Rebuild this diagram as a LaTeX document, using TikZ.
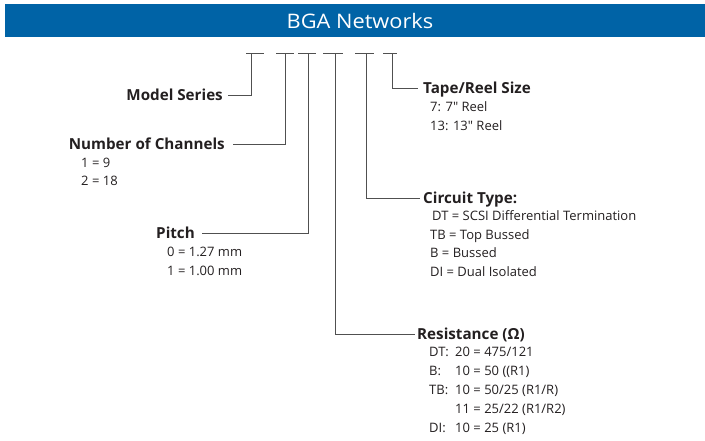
\documentclass[tikz,border=0pt]{standalone}
\usepackage{fontspec}
\setmainfont{Open Sans}
\newfontfamily\hdrfont[FakeStretch=1.09]{Open Sans}
\usetikzlibrary{calc}
\definecolor{hdrblue}{HTML}{0063A6}
\definecolor{linegray}{HTML}{505050}
\definecolor{txt}{HTML}{231F20}
\tikzset{
  conn/.style={draw=linegray, line width=0.9pt},
  ttl/.style={font=\fontsize{15.2}{17}\selectfont\bfseries, text=txt, inner sep=0pt, text height=13pt, text depth=1.5pt},
  itm/.style={font=\fontsize{13}{15}\selectfont, text=txt, inner sep=0pt, anchor=west, text height=11pt, text depth=2pt},
}
\begin{document}
\begin{tikzpicture}[x=1pt,y=-1pt]
\useasboundingbox (0,0) rectangle (705,440);
\fill[hdrblue] (5,4) rectangle (705,37);
\node[font=\hdrfont\fontsize{20}{22}\selectfont, text=white, inner sep=0pt] (title) at (360,20.5) {BGA Networks};

% dash segments and their drop points
\foreach \n/\a/\b/\c in {1/246/264/251, 2/276/294/285, 3/298/316/308, 4/323/343/335, 5/355/374/366, 6/383/397/392}{
  \coordinate (dl\n) at (\a,53);
  \coordinate (dr\n) at (\b,53);
  \coordinate (d\n) at (\c,53);
  \draw[conn] (dl\n) -- (dr\n);
}

% labels
\node[ttl, anchor=east] (model) at (223,95) {Model Series};
\node[ttl, anchor=east] (chan) at (225,144) {Number of Channels};
\node[itm] (c1) at (81,163) {1 = 9};
\node[itm] (c2) at (81,181) {2 = 18};
\node[ttl, anchor=east] (pitch) at (195,233) {Pitch};
\node[itm] (p1) at (167,252) {0 = 1.27 mm};
\node[itm] (p2) at (167,271) {1 = 1.00 mm};

\node[ttl, anchor=west] (tape) at (423,88) {Tape/Reel Size};
\node[itm] (t1) at (430,107) {7: 7\textquotedbl{} Reel};
\node[itm] (t2) at (430,126) {13: 13\textquotedbl{} Reel};

\node[ttl, anchor=west] (circ) at (423,198) {Circuit Type:};
\node[itm] (ct1) at (432,216) {DT = SCSI Differential Termination};
\node[itm] (ct2) at (430,235) {TB = Top Bussed};
\node[itm] (ct3) at (430,253) {B = Bussed};
\node[itm] (ct4) at (430,272) {DI = Dual Isolated};

\node[ttl, anchor=west] (res) at (417,334) {Resistance (Ω)};
\node[itm] (r1a) at (429,352) {DT:};
\node[itm] (r1b) at (455,352) {20 = 475/121};
\node[itm] (r2a) at (429,371) {B:};
\node[itm] (r2b) at (455,371) {10 = 50 ((R1)};
\node[itm] (r3a) at (429,390) {TB:};
\node[itm] (r3b) at (455,390) {10 = 50/25 (R1/R)};
\node[itm] (r4b) at (455,409) {11 = 25/22 (R1/R2)};
\node[itm] (r5a) at (429,428) {DI:};
\node[itm] (r5b) at (455,428) {10 = 25 (R1)};

% connectors
\draw[conn] (d1) |- ([xshift=5pt]model.east);
\draw[conn] (d2) |- ([xshift=8pt]chan.east);
\draw[conn] (d3) |- ([xshift=7pt]pitch.east);
\draw[conn] (d4) |- ([xshift=-2pt]res.west);
\draw[conn] (d5) |- ([xshift=-3pt]circ.west);
\draw[conn] (d6) |- ([xshift=-5pt]tape.west);
\end{tikzpicture}
\end{document}
